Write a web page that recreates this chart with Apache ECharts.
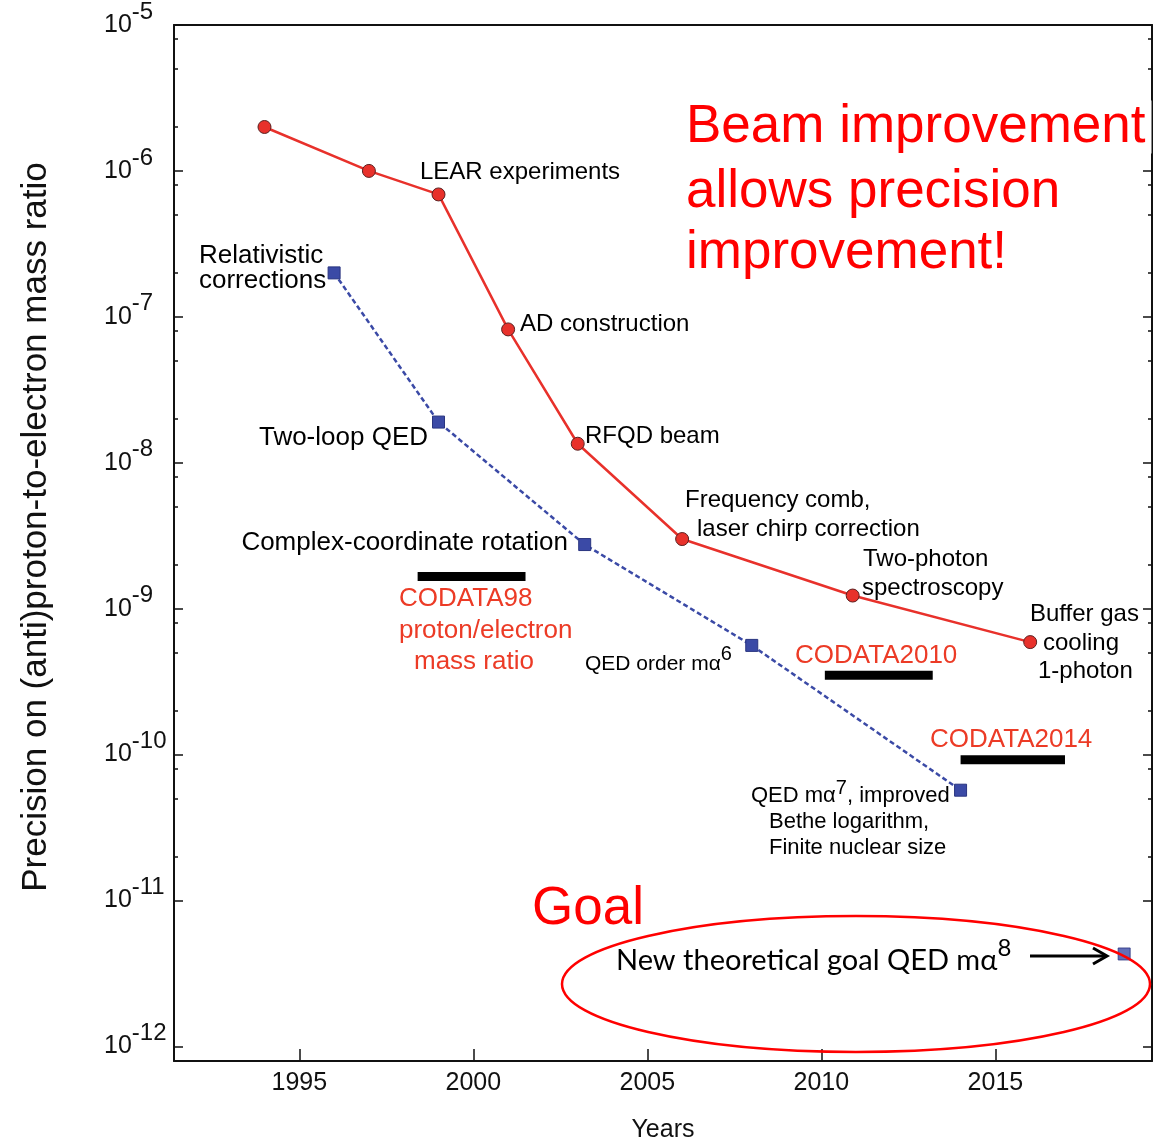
<!DOCTYPE html>
<html>
<head>
<meta charset="utf-8">
<script src="https://cdn.jsdelivr.net/npm/echarts@6/dist/echarts.min.js"></script>
<style>
html,body{margin:0;padding:0;background:#fff;}
#chart{width:1171px;height:1148px;}
</style>
</head>
<body>
<div id="chart"></div>
<script>
// ---- data ----
const redYears = [1994, 1997, 1999, 2001, 2003, 2006, 2010.9, 2016];
const redPrecision = [2e-6, 1e-6, 6.9e-7, 8.2e-8, 1.35e-8, 3.0e-9, 1.23e-9, 5.9e-10];
const blueYears = [1996, 1999, 2003.2, 2008, 2014];
const bluePrecision = [2e-7, 1.9e-8, 2.75e-9, 5.6e-10, 5.7e-11];
const goalYears = [2018.7];
const goalPrecision = [4.3e-12];
const codataNames = ['CODATA98', 'CODATA2010', 'CODATA2014'];
const codataStart = [1998.4, 2010.1, 2014.0];
const codataEnd = [2001.5, 2013.2, 2017.0];
const codataValue = [1.66e-9, 3.5e-10, 9.2e-11];
const xTickLabels = [1995, 2000, 2005, 2010, 2015];
const yMajorTicks = [1e-12, 1e-11, 1e-10, 1e-9, 1e-8, 1e-7, 1e-6, 1e-5];
const yMinorTicks = [2e-11, 5e-11, 8e-11, 2e-10, 5e-10, 8e-10, 2e-9, 5e-9, 8e-9,
  2e-8, 5e-8, 8e-8, 2e-7, 5e-7, 8e-7, 2e-6, 5e-6, 8e-6];

const RED = '#e8312b';
const BLUE = '#3b4aa6';
const LABRED = '#ec3b26';
const FONT = '"Liberation Sans", Arial, sans-serif';

const chart = echarts.init(document.getElementById('chart'), null, {renderer: 'canvas'});

const yMin = Math.pow(10, -12.10);
const yMax = 1e-5;

function yAxisBase(extra) {
  return Object.assign({
    type: 'log', logBase: 10, min: yMin, max: yMax,
    splitLine: {show: false}, minorTick: {show: false},
    axisLine: {show: false}, axisLabel: {show: false}, axisTick: {show: false}
  }, extra);
}

const codataSeries = codataNames.map((n, i) => ({
  type: 'line', name: n, symbol: 'none', silent: true, z: 3,
  data: [[codataStart[i], codataValue[i]], [codataEnd[i], codataValue[i]]],
  lineStyle: {color: '#000', width: 9, cap: 'butt'}
}));

function txt(x, y, s, size, color, extra) {
  return {
    type: 'text', x: x, y: y, z: 100,
    style: Object.assign({text: s, font: size + 'px ' + FONT, fill: color || '#000',
      textVerticalAlign: 'middle'}, extra || {})
  };
}
// text with superscript via rich text: main part centred on y, superscript raised
function supTxt(x, y, main, sup, tail, size, supSize, lh, family) {
  const fam = family || FONT;
  return {
    type: 'text', x: x, y: y, z: 100,
    style: {
      text: '{a|' + main + '}{s|' + sup + '}' + (tail ? '{a|' + tail + '}' : ''),
      fill: '#000', textVerticalAlign: 'middle',
      rich: {
        a: {fontSize: size, fontFamily: fam, fill: '#000', lineHeight: lh, verticalAlign: 'middle'},
        s: {fontSize: supSize, fontFamily: fam, fill: '#000', lineHeight: lh, verticalAlign: 'top'}
      }
    }
  };
}

const option = {
  animation: false,
  grid: {left: 174, right: 19, top: 23, bottom: 83, containLabel: false},
  xAxis: [{
    type: 'value', min: 1991.4, max: 2019.5, position: 'bottom',
    axisLine: {show: true, onZero: false, lineStyle: {color: '#111', width: 2}},
    axisTick: {show: true, inside: true, length: 12, customValues: xTickLabels, lineStyle: {color: '#111', width: 1.5}},
    axisLabel: {show: true, customValues: xTickLabels, fontSize: 25, color: '#111', fontFamily: FONT, margin: 10,
      formatter: v => String(v)},
    splitLine: {show: false},
    name: 'Years', nameLocation: 'middle', nameGap: 57,
    nameTextStyle: {fontSize: 25, color: '#111', fontFamily: FONT}
  }, {
    type: 'value', min: 1991.4, max: 2019.5, position: 'top',
    axisLine: {show: true, onZero: false, lineStyle: {color: '#111', width: 2}},
    axisTick: {show: false}, axisLabel: {show: false}, splitLine: {show: false}
  }],
  yAxis: [
    yAxisBase({
      position: 'left',
      axisLine: {show: true, onZero: false, lineStyle: {color: '#111', width: 2}},
      axisTick: {show: true, inside: true, length: 9, customValues: yMajorTicks, lineStyle: {color: '#111', width: 1.5}},
      axisLabel: {show: true, customValues: yMajorTicks, margin: 70, align: 'left', fontFamily: FONT,
        formatter: v => '{b|10}{s|' + Math.round(Math.log10(v)) + '}',
        rich: {
          b: {fontSize: 25, color: '#111', fontFamily: FONT, lineHeight: 50, verticalAlign: 'middle'},
          s: {fontSize: 24, color: '#111', fontFamily: FONT, lineHeight: 50, verticalAlign: 'top'}
        }
      }
    }),
    yAxisBase({position: 'left',
      axisTick: {show: true, inside: true, length: 4, customValues: yMinorTicks, lineStyle: {color: '#111', width: 1.5}}}),
    yAxisBase({position: 'right',
      axisLine: {show: true, onZero: false, lineStyle: {color: '#111', width: 2}},
      axisTick: {show: true, inside: true, length: 9, customValues: yMajorTicks, lineStyle: {color: '#111', width: 1.5}}}),
    yAxisBase({position: 'right',
      axisTick: {show: true, inside: true, length: 4, customValues: yMinorTicks, lineStyle: {color: '#111', width: 1.5}}})
  ],
  series: [
    ...codataSeries,
    {
      type: 'line', name: 'theory', z: 4,
      data: blueYears.map((y, i) => [y, bluePrecision[i]]),
      symbol: 'rect', symbolSize: 12,
      itemStyle: {color: BLUE, borderColor: '#2a3580', borderWidth: 1},
      lineStyle: {color: BLUE, width: 2.5, type: [5, 3]}
    },
    {
      type: 'scatter', name: 'goal', z: 4,
      data: goalYears.map((y, i) => [y, goalPrecision[i]]),
      symbol: 'rect', symbolSize: 12,
      itemStyle: {color: BLUE, borderColor: '#2a3580', borderWidth: 1}
    },
    {
      type: 'line', name: 'experiment', z: 5,
      data: redYears.map((y, i) => [y, redPrecision[i]]),
      symbol: 'circle', symbolSize: 13,
      itemStyle: {color: RED, borderColor: '#5a2020', borderWidth: 1},
      lineStyle: {color: RED, width: 2.5}
    }
  ],
  graphic: [
    // y axis title
    {type: 'text', x: 36, y: 527, rotation: Math.PI / 2, z: 100,
      style: {text: 'Precision on (anti)proton-to-electron mass ratio', font: '35px ' + FONT, fill: '#111',
        textAlign: 'center', textVerticalAlign: 'middle'}},
    // big red message
    txt(686, 127, 'Beam improvement', 53, '#ff0000', {backgroundColor: '#fff', padding: [0, 6, 0, 0]}),
    txt(686, 192, 'allows precision', 53, '#ff0000'),
    txt(686, 253, 'improvement!', 53, '#ff0000'),
    txt(532, 909, 'Goal', 53, '#ff0000'),
    // experiment labels
    txt(420, 172, 'LEAR experiments', 24),
    txt(520, 324, 'AD construction', 24),
    txt(585, 436, 'RFQD beam', 24),
    txt(685, 500, 'Frequency comb,', 24),
    txt(697, 529, 'laser chirp correction', 24),
    txt(863, 559, 'Two-photon', 24),
    txt(862, 588, 'spectroscopy', 24),
    txt(1030, 614, 'Buffer gas', 24),
    txt(1043, 643, 'cooling', 24),
    txt(1038, 671, '1-photon', 24),
    // theory labels
    txt(199, 256, 'Relativistic', 26),
    txt(199, 281, 'corrections', 26),
    txt(428, 438, 'Two-loop QED', 26, '#000', {textAlign: 'right'}),
    txt(568, 543, 'Complex-coordinate rotation', 26, '#000', {textAlign: 'right'}),
    supTxt(585, 664, 'QED order m\u03b1', '6', '', 21, 20, 40),
    supTxt(751, 796, 'QED m\u03b1', '7', ', improved', 22, 20, 36),
    txt(769, 822, 'Bethe logarithm,', 22),
    txt(769, 848, 'Finite nuclear size', 22),
    // CODATA labels
    txt(399, 599, 'CODATA98', 26, LABRED),
    txt(399, 631, 'proton/electron', 26, LABRED),
    txt(414, 662, 'mass ratio', 26, LABRED),
    txt(795, 656, 'CODATA2010', 26, LABRED),
    txt(930, 740, 'CODATA2014', 26, LABRED),
    // goal
    supTxt(616, 961, 'New theoretical goal QED m\u03b1', '8', '', 29, 24, 50, 'Lato, "Open Sans", sans-serif'),
    {type: 'line', z: 100, shape: {x1: 1030, y1: 956, x2: 1106, y2: 956}, style: {stroke: '#000', lineWidth: 3}},
    {type: 'polyline', z: 100, shape: {points: [[1093, 948], [1107, 956], [1093, 964]]}, style: {stroke: '#000', lineWidth: 3, fill: null}},
    {type: 'ellipse', z: 90, shape: {cx: 856, cy: 984, rx: 294, ry: 68}, style: {stroke: '#ff0000', lineWidth: 2.5, fill: null}}
  ]
};
chart.setOption(option);
</script>
</body>
</html>
